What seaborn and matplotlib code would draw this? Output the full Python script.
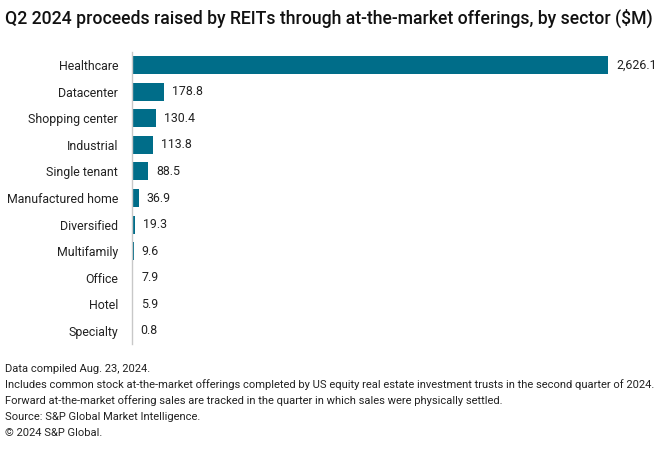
import matplotlib
matplotlib.use("Agg")
import matplotlib.pyplot as plt
import seaborn as sns
import pandas as pd

sectors = ["Healthcare", "Datacenter", "Shopping center", "Industrial", "Single tenant",
           "Manufactured home", "Diversified", "Multifamily", "Office", "Hotel", "Specialty"]
values = [2626.1, 178.8, 130.4, 113.8, 88.5, 36.9, 19.3, 9.6, 7.9, 5.9, 0.8]

title = "Q2 2024 proceeds raised by REITs through at-the-market offerings, by sector ($M)"
notes = [
    "Data compiled Aug. 23, 2024.",
    "Includes common stock at-the-market offerings completed by US equity real estate investment trusts in the second quarter of 2024.",
    "Forward at-the-market offering sales are tracked in the quarter in which sales were physically settled.",
    "Source: S&P Global Market Intelligence.",
    "\u00a9 2024 S&P Global.",
]

sns.set_theme(style="white")
plt.rcParams["font.family"] = ["Roboto", "DejaVu Sans"]

df = pd.DataFrame({"sector": sectors, "value": values})

fig = plt.figure(figsize=(6.6, 4.5), dpi=100)
ax = fig.add_axes([132/660, 1-344/450, (608-132)/660, (344-52)/450])
sns.barplot(data=df, x="value", y="sector", color="#006d89", saturation=1,
            width=0.68, ax=ax, edgecolor="none")
ax.set_xlim(0, 2626.1)
ax.set_ylim(len(sectors)-0.5, -0.5)
ax.set_xlabel("")
ax.set_ylabel("")
ax.set_xticks([])
for s in ["top", "right", "bottom"]:
    ax.spines[s].set_visible(False)
ax.spines["left"].set_color("#c8c8c8")
ax.spines["left"].set_linewidth(1)
ax.tick_params(axis="y", length=0, pad=10, labelsize=8.9, labelcolor="#222222")

for i, v in enumerate(values):
    ax.text(v + 2626.1*0.012 + 12, i, f"{v:,.1f}", va="center", ha="left",
            fontsize=8.9, color="#222222")

fig.text(5/660, 1-18/450, title, fontsize=12.7, fontweight="medium",
         va="center", ha="left", color="#111111")
for k, line in enumerate(notes):
    fig.text(5/660, 1-(369 + k*16)/450, line, fontsize=8.0, va="center",
             ha="left", color="#222222")

fig.savefig("out.png", dpi=100)
